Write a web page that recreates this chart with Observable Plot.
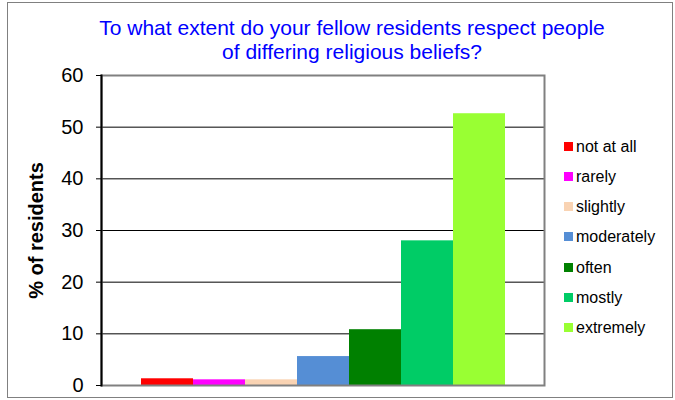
<!DOCTYPE html>
<html>
<head>
<meta charset="utf-8">
<script src="https://cdn.jsdelivr.net/npm/d3@7"></script>
<script src="https://cdn.jsdelivr.net/npm/@observablehq/plot@0.6"></script>
<style>
  html, body { margin: 0; padding: 0; background: #fff; }
  #chart { position: relative; width: 675px; height: 400px; font-family: "Liberation Sans", Arial, sans-serif; overflow: hidden; }
  #outer { position: absolute; left: 7px; top: 2px; width: 664px; height: 394px; border: 1px solid #808080; }
  #title { position: absolute; left: 52px; width: 600px; top: 16px; text-align: center; color: #0000FF; font-size: 21px; line-height: 24px; }
  #plot { position: absolute; left: 0; top: 0; }
  #legend { position: absolute; left: 564px; top: 0; font-size: 16px; color: #000; }
  .row { position: absolute; left: 0; white-space: nowrap; height: 20px; line-height: 20px; }
  .sw { position: absolute; left: 0; top: 5px; width: 9px; height: 9px; }
  .lab { position: absolute; left: 12px; top: 0; }
  g[aria-label="y-axis label"] text { font-weight: bold; }
</style>
</head>
<body>
<div id="chart">
  <div id="outer"></div>
  <div id="plot"></div>
  <div id="title">To what extent do your fellow residents respect people<br>of differing religious beliefs?</div>
  <div id="legend"></div>
</div>
<script>
const categories = ["not at all", "rarely", "slightly", "moderately", "often", "mostly", "extremely"];
const values = [1.3, 1.1, 1.1, 5.6, 10.8, 28.0, 52.6];
const colors = ["#FF0000", "#FF00FF", "#F9D3B3", "#558ED5", "#008000", "#00CC66", "#99FF33"];
const yTicks = [0, 10, 20, 30, 40, 50, 60];
const yLabel = "% of residents";

const data = categories.map((c, i) => ({category: c, value: values[i]}));

const chart = Plot.plot({
  width: 675,
  height: 400,
  marginTop: 75,
  marginRight: 131,
  marginBottom: 15,
  marginLeft: 101,
  style: {fontFamily: "'Liberation Sans', Arial, sans-serif", background: "transparent", color: "#000"},
  x: {domain: categories, paddingInner: 0, paddingOuter: 0.735, axis: null},
  y: {domain: [0, 60]},
  color: {domain: categories, range: colors},
  marks: [
    Plot.gridY(yTicks, {stroke: "#000", strokeOpacity: 1, strokeWidth: 1}),
    Plot.barY(data, {x: "category", y: "value", fill: "category"}),
    Plot.frame({stroke: "#808080", strokeWidth: 2}),
    Plot.frame({anchor: "left", stroke: "#000", strokeWidth: 2}),
    Plot.axisY(yTicks, {tickSize: 5, tickPadding: 13, fontSize: 20, label: yLabel, labelAnchor: "center", labelArrow: "none", labelOffset: 73, tickFormat: d => String(d)})
  ]
});
document.getElementById("plot").appendChild(chart);

const legend = document.getElementById("legend");
categories.forEach((c, i) => {
  const row = document.createElement("div");
  row.className = "row";
  row.style.top = (137 + i * 30.15) + "px";
  const sw = document.createElement("div");
  sw.className = "sw";
  sw.style.background = colors[i];
  const lab = document.createElement("span");
  lab.className = "lab";
  lab.textContent = c;
  row.appendChild(sw);
  row.appendChild(lab);
  legend.appendChild(row);
});
</script>
</body>
</html>
